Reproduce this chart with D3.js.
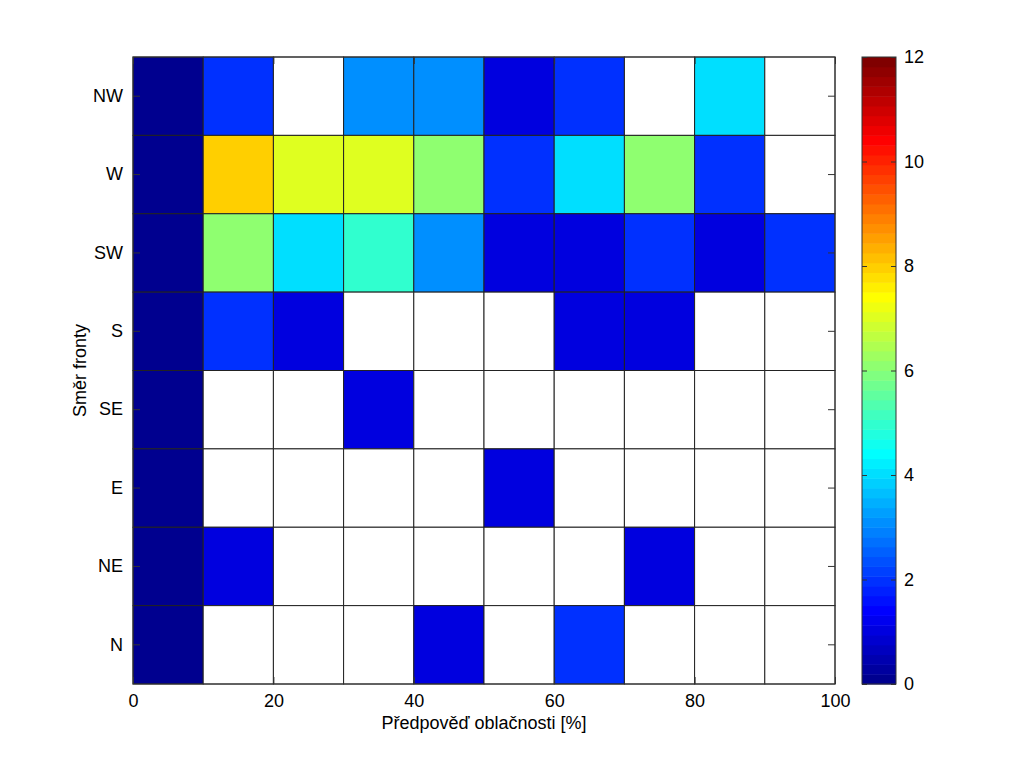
<!DOCTYPE html>
<html><head><meta charset="utf-8">
<script src="https://cdn.jsdelivr.net/npm/d3@7"></script>
<style>body{margin:0;background:#fff}svg text{font-family:"Liberation Sans",Arial,sans-serif;fill:#000}</style>
</head><body><svg id="c" width="1024" height="768"></svg>
<script>
const rows = ["NW","W","SW","S","SE","E","NE","N"];
const xEdges = [0,10,20,30,40,50,60,70,80,90,100];
const xTicks = [0,20,40,60,80,100];
const cTicks = [0,2,4,6,8,10,12];
// values per row (top to bottom), null = empty cell
const vNW = [0,2,null,3,3,1,2,null,4,null];
const vW  = [0,8,7,7,6,2,4,6,2,null];
const vSW = [0,6,4,5,3,1,1,2,1,2];
const vS  = [0,2,1,null,null,null,1,1,null,null];
const vSE = [0,null,null,1,null,null,null,null,null,null];
const vE  = [0,null,null,null,null,1,null,null,null,null];
const vNE = [0,1,null,null,null,null,null,1,null,null];
const vN  = [0,null,null,null,1,null,2,null,null,null];
const values = [vNW,vW,vSW,vS,vSE,vE,vNE,vN];

// MATLAB-style jet colormap
function jet(n){
  const m=Math.ceil(n/4);
  const u=[];
  for(let i=1;i<=m;i++)u.push(i/m);
  for(let i=1;i<m;i++)u.push(1);
  for(let i=m;i>=1;i--)u.push(i/m);
  const off=Math.ceil(m/2)-(n%4===1?1:0);
  const R=new Array(n).fill(0),G=new Array(n).fill(0),B=new Array(n).fill(0);
  u.forEach((val,k)=>{
    const gi=off+k+1; const ri=gi+m; const bi=gi-m;
    if(gi>=1&&gi<=n)G[gi-1]=val;
    if(ri>=1&&ri<=n)R[ri-1]=val;
    if(bi>=1&&bi<=n)B[bi-1]=val;
  });
  return d3.range(n).map(i=>d3.rgb(Math.round(R[i]*255),Math.round(G[i]*255),Math.round(B[i]*255)).formatHex());
}
const jetColors = jet(64);
const color = d3.scaleQuantize().domain([0,12]).range(jetColors);

const svg = d3.select("#c");
const L=133,Rx=835,T=57,B=684;
const FS="18px";
const x = d3.scaleLinear().domain([0,100]).range([L,Rx]);
const y = d3.scaleBand().domain(rows).range([T,B]);

const g = svg.append("g");
values.forEach((row,ri)=>{
  row.forEach((v,ci)=>{
    g.append("rect")
      .attr("x",x(xEdges[ci])).attr("y",y(rows[ri]))
      .attr("width",x(xEdges[ci+1])-x(xEdges[ci])).attr("height",y.bandwidth())
      .attr("fill",v==null?"#fff":color(v))
      .attr("stroke","#222").attr("stroke-width",1);
  });
});

// axes (ticks inward)
const ax = svg.append("g");
ax.append("g").attr("transform",`translate(0,${B})`)
  .call(d3.axisBottom(x).tickValues(xTicks).tickSizeInner(-7).tickSizeOuter(0).tickPadding(10));
ax.append("g").attr("transform",`translate(0,${T})`)
  .call(d3.axisTop(x).tickValues(xTicks).tickSizeInner(-7).tickSizeOuter(0).tickFormat(""));
ax.append("g").attr("transform",`translate(${L},0)`)
  .call(d3.axisLeft(y).tickSizeInner(-7).tickSizeOuter(0).tickPadding(10));
ax.append("g").attr("transform",`translate(${Rx},0)`)
  .call(d3.axisRight(y).tickSizeInner(-7).tickSizeOuter(0).tickFormat(""));
ax.selectAll(".domain").remove();
ax.selectAll("line").attr("stroke","#333");
ax.selectAll("text").style("font-size",FS).style("font-family","'Liberation Sans',Arial,sans-serif");
svg.append("rect").attr("x",L).attr("y",T).attr("width",Rx-L).attr("height",B-T)
  .attr("fill","none").attr("stroke","#333").attr("stroke-width",1);

svg.append("text").attr("x",(L+Rx)/2).attr("y",729).attr("text-anchor","middle")
  .style("font-size",FS).text("Předpověď oblačnosti [%]");
svg.append("text").attr("transform",`translate(86,${(T+B)/2}) rotate(-90)`).attr("text-anchor","middle")
  .style("font-size",FS).text("Směr fronty");

// colorbar
const CL=862,CR=896;
const cy = d3.scaleLinear().domain([0,12]).range([B,T]);
const cb = svg.append("g");
jetColors.forEach((c,i)=>{
  const v0=i*12/64, v1=(i+1)*12/64;
  cb.append("rect").attr("x",CL).attr("width",CR-CL)
    .attr("y",cy(v1)).attr("height",cy(v0)-cy(v1)+0.5).attr("fill",c);
});
const cax = svg.append("g");
cax.append("g").attr("transform",`translate(${CR},0)`)
  .call(d3.axisRight(cy).tickValues(cTicks).tickSizeInner(-5).tickSizeOuter(0).tickPadding(8));
cax.append("g").attr("transform",`translate(${CL},0)`)
  .call(d3.axisLeft(cy).tickValues(cTicks).tickSizeInner(-5).tickSizeOuter(0).tickFormat(""));
cax.selectAll(".domain").remove();
cax.selectAll("line").attr("stroke","#333");
cax.selectAll("text").style("font-size",FS).style("font-family","'Liberation Sans',Arial,sans-serif");
svg.append("rect").attr("x",CL).attr("y",T).attr("width",CR-CL).attr("height",B-T)
  .attr("fill","none").attr("stroke","#333").attr("stroke-width",1);
</script></body></html>
